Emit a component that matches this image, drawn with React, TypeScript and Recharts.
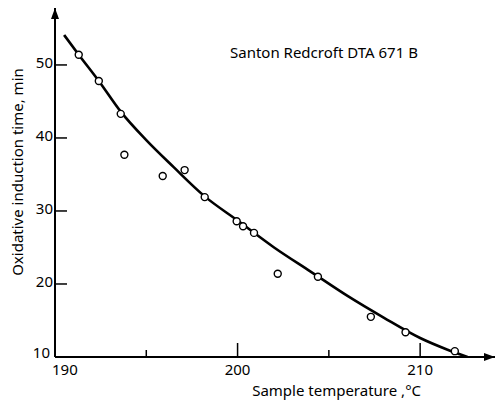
import {
  ComposedChart,
  Line,
  Scatter,
  XAxis,
  YAxis,
  ReferenceDot,
  Label,
} from "recharts"

// measured points: sample temperature (°C) vs oxidative induction time (min)
const tempC = [191.3, 192.4, 193.6, 193.8, 195.9, 197.1, 198.2, 199.95, 200.3, 200.9, 202.2, 204.4, 207.3, 209.2, 211.9]
const inductionMin = [51.4, 47.8, 43.3, 37.7, 34.8, 35.6, 31.9, 28.6, 27.9, 27.0, 21.4, 21.0, 15.5, 13.4, 10.8]

// hand drawn fit through the points
const curveTemp = [190.5, 191.3, 192.4, 193.6, 195, 196.5, 198.2, 200, 202, 204, 206, 208, 210, 211.5, 212.6]
const curveMin = [54.1, 51.4, 47.8, 43.6, 39.7, 36.0, 32.0, 28.7, 25.0, 21.7, 18.4, 15.4, 12.6, 11.0, 10.0]

const xTicks = [190, 195, 200, 205, 210]
const yTicks = [10, 20, 30, 40, 50]

const points = tempC.map((x, i) => ({ x, y: inductionMin[i] }))
const curve = curveTemp.map((x, i) => ({ x, y: curveMin[i] }))

const FONT = "'Noto Sans', sans-serif"
const X_MIN = 190
const X_MAX = 214.1
const Y_MIN = 10
const Y_MAX = 57.8

function XTick({ x, y, payload }: any) {
  const v = payload.value
  const major = v % 10 === 0
  const corner = v === X_MIN
  return (
    <g>
      {!corner && <line x1={x} y1={y} x2={x} y2={y - (major ? 14 : 7)} stroke="#000" strokeWidth={1.5} />}
      {major && (
        <text
          x={corner ? x - 3 : x}
          y={y + 18}
          textAnchor={corner ? "start" : "middle"}
          fontSize={15}
          fontFamily={FONT}
          fill="#000"
        >
          {v}
        </text>
      )}
    </g>
  )
}

function YTick({ x, y, payload }: any) {
  const v = payload.value
  const corner = v === Y_MIN
  return (
    <g>
      {!corner && <line x1={x} y1={y} x2={x + 12} y2={y} stroke="#000" strokeWidth={1.5} />}
      <text
        x={corner ? x - 5 : x - 2}
        y={corner ? y - 4 : y - 2}
        dy="0.35em"
        textAnchor="end"
        fontSize={15}
        fontFamily={FONT}
        fill="#000"
      >
        {v}
      </text>
    </g>
  )
}

const upArrow = ({ cx, cy }: any) => (
  <path d={`M${cx},${cy} L${cx - 4},${cy + 11} L${cx + 4},${cy + 11} Z`} fill="#000" />
)
const rightArrow = ({ cx, cy }: any) => (
  <path d={`M${cx},${cy} L${cx - 11},${cy - 4} L${cx - 11},${cy + 4} Z`} fill="#000" />
)

const ring = ({ cx, cy }: any) => <circle cx={cx} cy={cy} r={3.5} fill="#fff" stroke="#000" strokeWidth={1.4} />

export default function App() {
  return (
    <div style={{ position: "absolute", left: 0, top: 0, width: 497, height: 401, background: "#fff" }}>
      <ComposedChart width={497} height={401} margin={{ top: 8, right: 2, bottom: 0, left: 0 }}>
        <XAxis
          dataKey="x"
          type="number"
          domain={[X_MIN, X_MAX]}
          ticks={xTicks}
          tick={<XTick />}
          tickSize={0}
          tickMargin={0}
          tickLine={false}
          height={44}
          axisLine={{ stroke: "#000", strokeWidth: 2 }}
          allowDataOverflow
        >
          <Label
            content={({ viewBox }: any) => (
              <text
                x={viewBox.x + viewBox.width * 0.64}
                y={viewBox.y + 39}
                textAnchor="middle"
                fontSize={15}
                fontFamily={FONT}
                fill="#000"
              >
                Sample temperature ,°C
              </text>
            )}
          />
        </XAxis>
        <YAxis
          dataKey="y"
          type="number"
          domain={[Y_MIN, Y_MAX]}
          ticks={yTicks}
          tick={<YTick />}
          tickSize={0}
          tickMargin={0}
          tickLine={false}
          width={55}
          axisLine={{ stroke: "#000", strokeWidth: 2 }}
          allowDataOverflow
        >
          <Label
            content={({ viewBox }: any) => {
              const cx = 17
              const cy = viewBox.y + viewBox.height * 0.47
              return (
                <text
                  x={cx}
                  y={cy}
                  transform={`rotate(-90 ${cx} ${cy})`}
                  textAnchor="middle"
                  dominantBaseline="central"
                  fontSize={15}
                  fontFamily={FONT}
                  fill="#000"
                >
                  Oxidative induction time, min
                </text>
              )
            }}
          />
        </YAxis>
        <Line
          data={curve}
          dataKey="y"
          type="monotone"
          stroke="#000"
          strokeWidth={2.6}
          dot={false}
          activeDot={false}
          isAnimationActive={false}
        />
        <Scatter data={points} dataKey="y" shape={ring} isAnimationActive={false} />
        <ReferenceDot x={X_MIN} y={Y_MAX} r={0} shape={upArrow} ifOverflow="visible" />
        <ReferenceDot x={X_MAX} y={Y_MIN} r={0} shape={rightArrow} ifOverflow="visible" />
      </ComposedChart>
      <div
        style={{
          position: "absolute",
          left: 230,
          top: 42,
          fontFamily: FONT,
          fontSize: 15,
          lineHeight: "20px",
          whiteSpace: "nowrap",
          color: "#000",
        }}
      >
        Santon Redcroft DTA 671 B
      </div>
    </div>
  )
}
